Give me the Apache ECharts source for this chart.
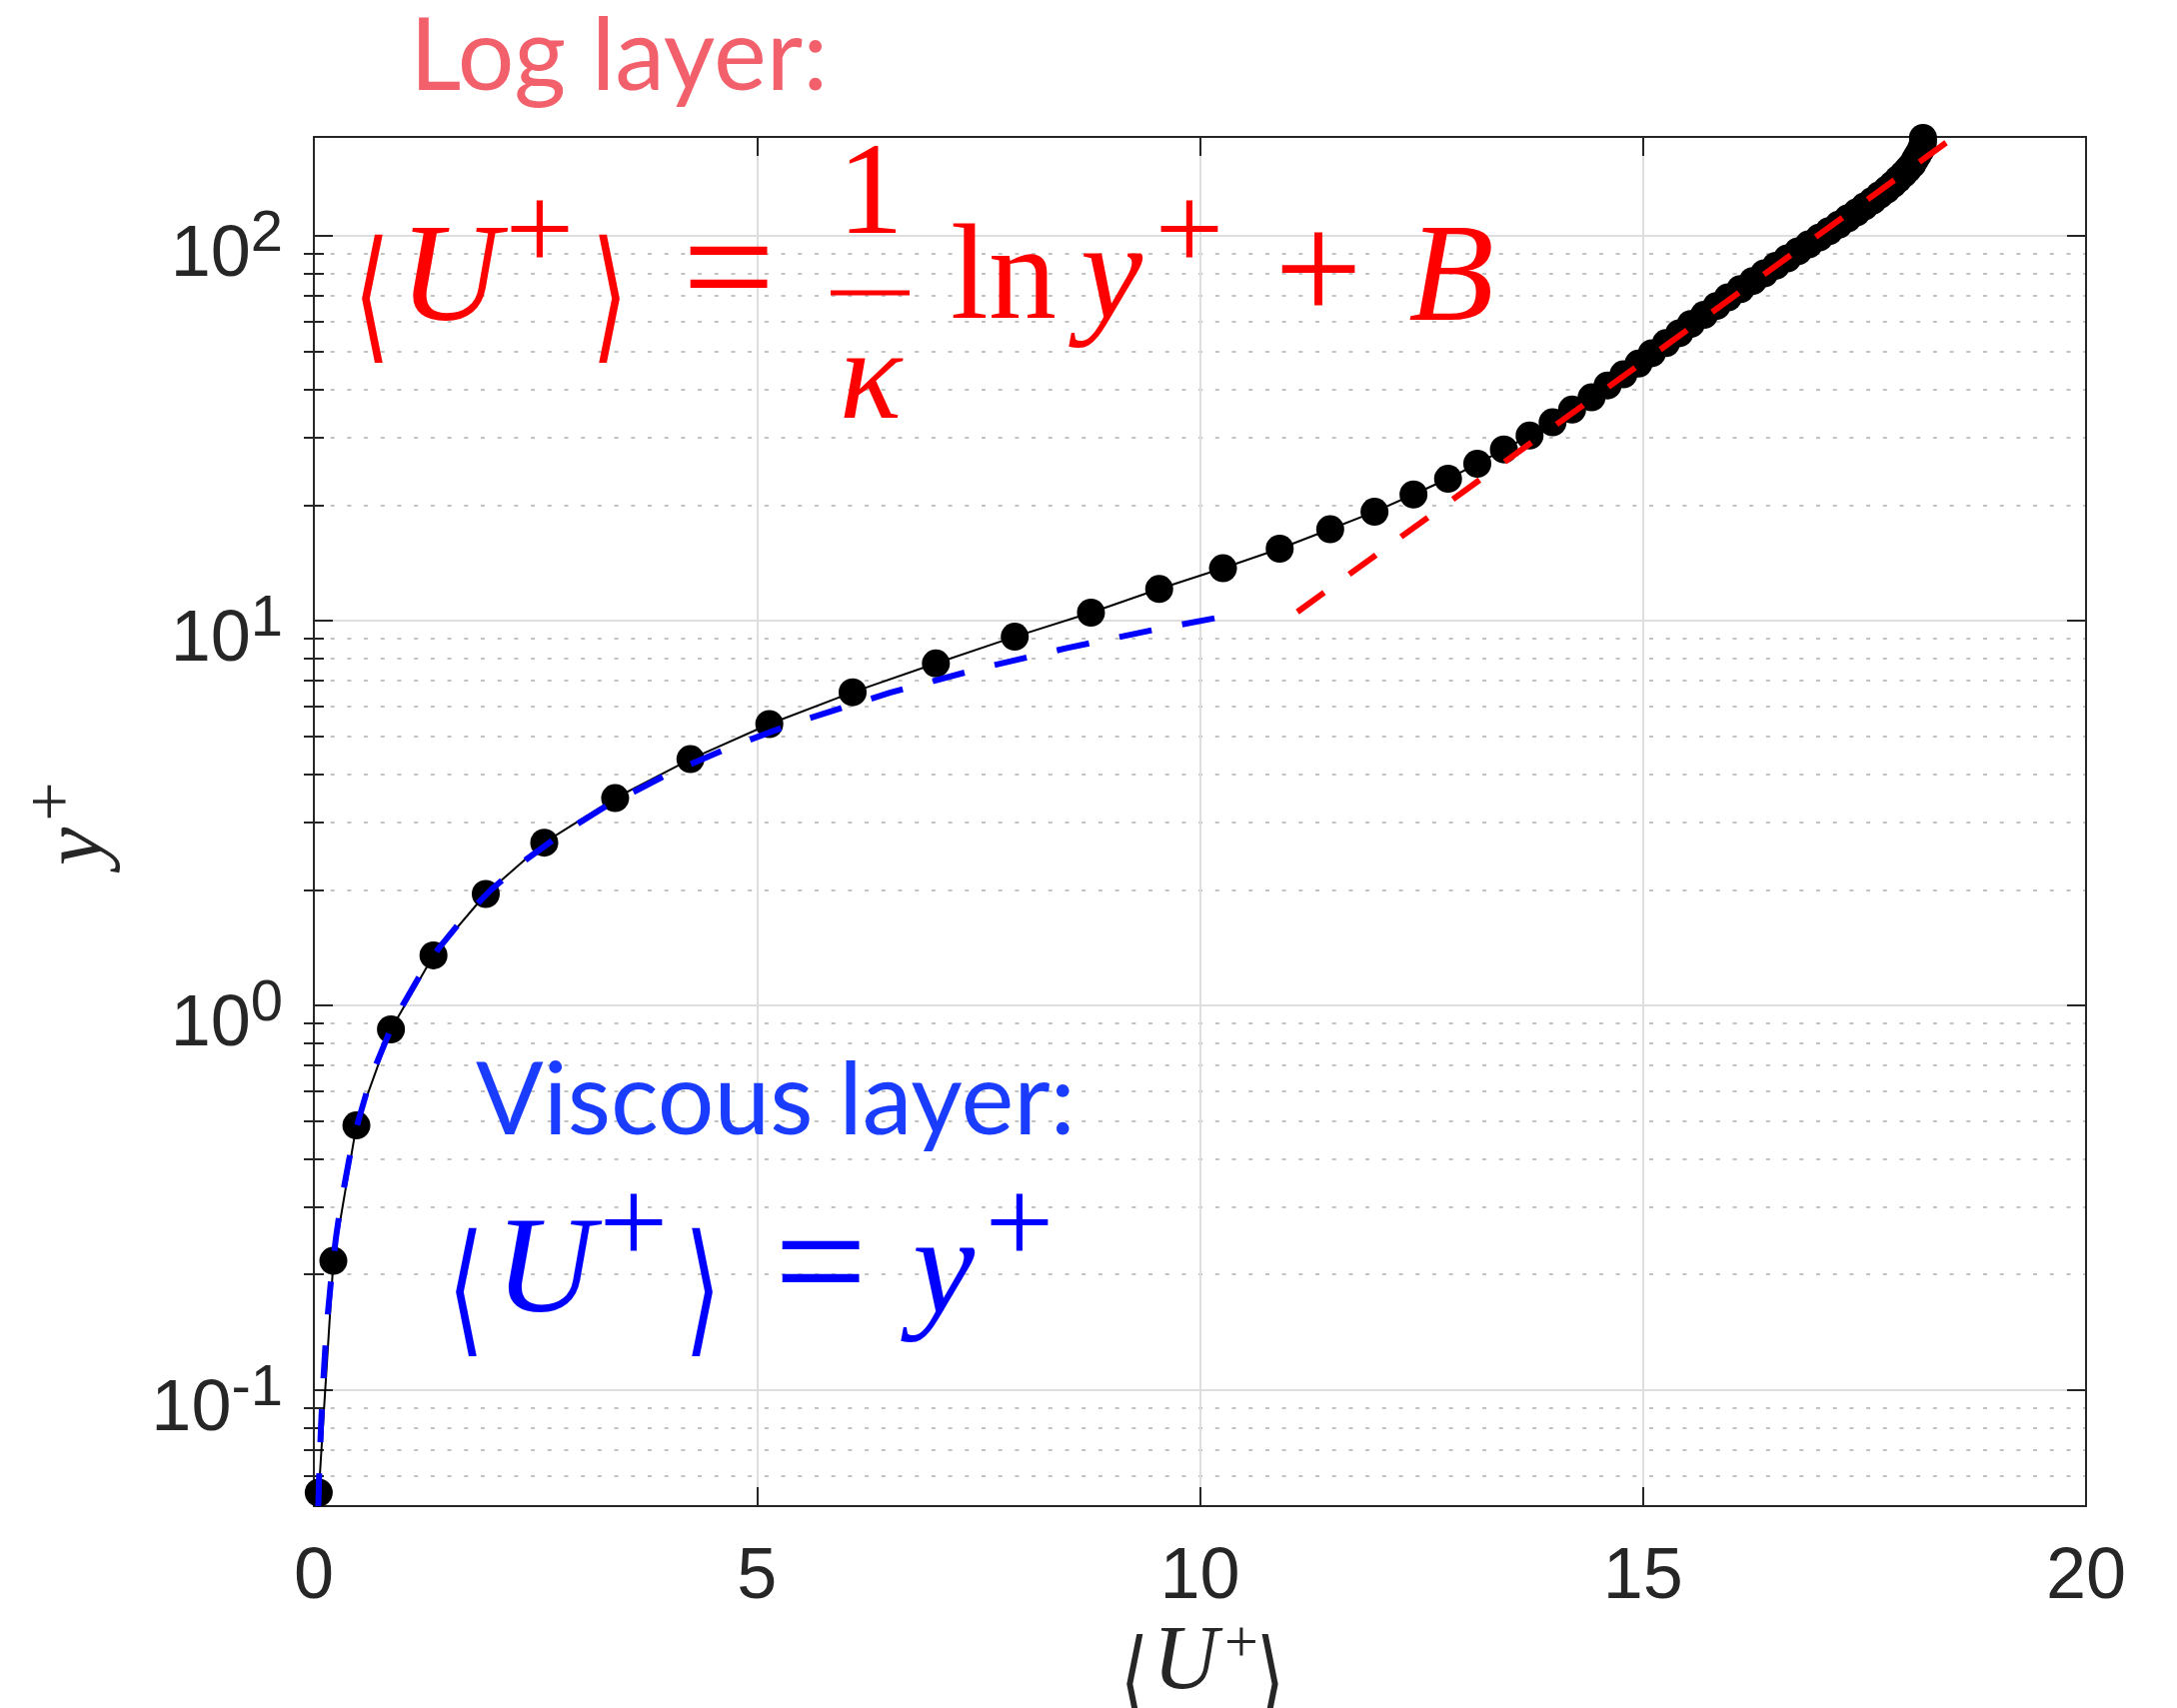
<!DOCTYPE html>
<html><head><meta charset="utf-8">
<script src="https://cdn.jsdelivr.net/npm/echarts@6/dist/echarts.min.js"></script>
<style>html,body{margin:0;padding:0;background:#fff}#c{width:2178px;height:1709px}</style>
</head><body><div id="c"></div>
<script>
// Mean velocity profile (DNS points)
const uPlus = [0.055, 0.22, 0.48, 0.87, 1.35, 1.94, 2.60, 3.40, 4.25, 5.14, 6.08, 7.02, 7.91, 8.77, 9.54, 10.26, 10.90, 11.47, 11.97, 12.41, 12.80, 13.13, 13.43, 13.72, 13.98, 14.20, 14.42, 14.60, 14.78, 14.95, 15.10, 15.26, 15.41, 15.54, 15.69, 15.83, 15.96, 16.10, 16.24, 16.37, 16.50, 16.63, 16.75, 16.87, 16.99, 17.10, 17.21, 17.31, 17.41, 17.50, 17.59, 17.67, 17.75, 17.82, 17.88, 17.94, 17.99, 18.04, 18.07, 18.10, 18.13, 18.15, 18.16, 18.16];
const yPlus = [0.0542, 0.217, 0.488, 0.867, 1.35, 1.95, 2.65, 3.46, 4.37, 5.39, 6.52, 7.75, 9.09, 10.5, 12.1, 13.7, 15.4, 17.3, 19.2, 21.3, 23.4, 25.6, 27.9, 30.3, 32.8, 35.4, 38.1, 40.9, 43.7, 46.6, 49.6, 52.7, 55.9, 59.1, 62.4, 65.8, 69.3, 72.8, 76.4, 80.0, 83.7, 87.5, 91.3, 95.1, 99.1, 103.0, 107.1, 111.1, 115.2, 119.4, 123.5, 127.8, 132.0, 136.3, 140.6, 144.9, 149.2, 153.6, 158.0, 162.4, 166.8, 171.2, 175.6, 180];
// Viscous sublayer line <U+> = y+
const viscousU = [0.05, 0.06, 0.08, 0.1, 0.13, 0.16, 0.2, 0.25, 0.3, 0.4, 0.5, 0.6, 0.7, 0.85, 1, 1.2, 1.4, 1.7, 2, 2.4, 2.8, 3.3, 4, 4.7, 5.5, 6.5, 7.5, 8.5, 9.5, 10.5];
const viscousY = [0.05, 0.06, 0.08, 0.1, 0.13, 0.16, 0.2, 0.25, 0.3, 0.4, 0.5, 0.6, 0.7, 0.85, 1, 1.2, 1.4, 1.7, 2, 2.4, 2.8, 3.3, 4, 4.7, 5.5, 6.5, 7.5, 8.5, 9.5, 10.5];
// Log-law line
const logLawU = [11.10, 13.49, 15.5, 17.0, 18.49];
const logLawY = [10.55, 26.4, 57.0, 101.4, 179.6];
// Axis ticks
const xTicks = [0, 5, 10, 15, 20];
const yMajorTicks = [0.1, 1, 10, 100];
const yMinorTicks = [0.06, 0.07, 0.08, 0.09, 0.2, 0.3, 0.4, 0.5, 0.6, 0.7, 0.8, 0.9, 2, 3, 4, 5, 6, 7, 8, 9, 20, 30, 40, 50, 60, 70, 80, 90];

const AX = '#262626';
const pair = (a, b) => a.map((v, i) => [v, b[i]]);
const chart = echarts.init(document.getElementById('c'), null, {renderer: 'canvas', width: 2178, height: 1709});

const axLine = {show: true, onZero: false, lineStyle: {color: AX, width: 2}};
const yBase = {type: 'log', logBase: 10, min: 0.05, max: 181};
const SERIF = '"Liberation Serif", "Times New Roman", serif';
const RED = '#ff0000', BLUE = '#0000ff';

function t(text, x, y, size, fill, opts) {
  opts = opts || {};
  return {
    type: 'text', x: x, y: y, rotation: opts.rot || 0, scaleX: opts.sx || 1, scaleY: opts.sy || 1, z: 50,
    style: {
      text: text, fontSize: size, fontFamily: opts.family || SERIF,
      fontStyle: opts.italic ? 'italic' : 'normal', fill: fill,
      align: opts.align || 'center', verticalAlign: 'middle'
    }
  };
}
const BR = {family: '"DejaVu Sans"', sy: 2, sx: 1.3};

const graphics = [
  t('Log layer:', 410, 58, 100, '#f2606b', {family: 'Lato', align: 'left'}),
  // red equation
  t('\u27E8', 372, 307, 72, RED, BR),
  t('U', 450, 283, 140, RED, {italic: true}),
  t('+', 540, 238, 122, RED),
  t('\u27E9', 610, 307, 72, RED, BR),
  t('=', 729, 279, 165, RED),
  t('1', 871, 198, 132, RED),
  {type: 'rect', z: 50, shape: {x: 831, y: 290.5, width: 79, height: 5}, style: {fill: RED}},
  t('\u03BA', 871, 384, 130, RED, {italic: true}),
  t('ln', 1004, 282, 136, RED),
  t('y', 1112, 281, 140, RED, {italic: true}),
  t('+', 1190, 238, 122, RED),
  t('+', 1319, 280, 156, RED),
  t('B', 1452, 283, 140, RED, {italic: true}),
  // blue text
  t('Viscous layer:', 476, 1103, 100, '#1a3cff', {family: 'Lato', align: 'left'}),
  t('\u27E8', 466, 1301, 72, BLUE, BR),
  t('U', 545, 1276, 138, BLUE, {italic: true}),
  t('+', 634, 1232, 122, BLUE),
  t('\u27E9', 703, 1301, 72, BLUE, BR),
  t('=', 821, 1274, 165, BLUE),
  t('y', 944, 1276, 140, BLUE, {italic: true}),
  t('+', 1020, 1232, 122, BLUE),
  // x axis title
  t('\u27E8', 1135, 1691, 56, AX, BR),
  t('U', 1186, 1665, 90, AX, {italic: true}),
  t('+', 1242, 1646, 60, AX),
  t('\u27E9', 1271, 1691, 56, AX, BR),
  // y axis title (rotated)
  t('y', 78, 847, 86, AX, {italic: true, rot: Math.PI / 2}),
  t('+', 55, 802, 70, AX, {rot: Math.PI / 2})
];

const option = {
  animation: false,
  backgroundColor: '#ffffff',
  grid: {left: 314, top: 137, width: 1773, height: 1370, containLabel: false},
  xAxis: [
    {type: 'value', position: 'bottom', min: xTicks[0], max: xTicks[xTicks.length - 1], interval: 5,
      axisLine: axLine,
      axisTick: {show: true, inside: true, length: 19, lineStyle: {color: AX, width: 2}},
      axisLabel: {margin: 36, fontSize: 72, color: AX, fontFamily: 'Liberation Sans'},
      splitLine: {show: true, lineStyle: {color: '#dedede', width: 2}}},
    {type: 'value', position: 'top', min: xTicks[0], max: xTicks[xTicks.length - 1], interval: 5,
      axisLine: axLine,
      axisTick: {show: true, inside: true, length: 19, lineStyle: {color: AX, width: 2}},
      axisLabel: {show: false}, splitLine: {show: false}}
  ],
  yAxis: [
    Object.assign({}, yBase, {position: 'left', axisLine: axLine,
      axisTick: {show: true, inside: true, length: 19, customValues: yMajorTicks, lineStyle: {color: AX, width: 2}},
      axisLabel: {show: true, customValues: yMajorTicks, margin: 31, padding: [12, 0, 0, 0],
        formatter: function (v) { return '{m|10}{s|' + Math.round(Math.log10(v)) + '}'; },
        rich: {
          m: {fontSize: 72, fontFamily: 'Liberation Sans', color: AX, lineHeight: 72, padding: [28, 0, 0, 0]},
          s: {fontSize: 58, fontFamily: 'Liberation Sans', color: AX, lineHeight: 58, verticalAlign: 'top'}
        }},
      splitLine: {show: true, lineStyle: {color: '#dedede', width: 2}}}),
    Object.assign({}, yBase, {position: 'left', axisLine: {show: false},
      axisTick: {show: true, inside: true, length: 10, customValues: yMinorTicks, lineStyle: {color: AX, width: 2}},
      axisLabel: {show: false},
      splitLine: {show: true, lineStyle: {color: '#c2c2c2', width: 2, type: [4, 12.7]}}}),
    Object.assign({}, yBase, {position: 'right', axisLine: axLine,
      axisTick: {show: true, inside: true, length: 19, customValues: yMajorTicks, lineStyle: {color: AX, width: 2}},
      axisLabel: {show: false}, splitLine: {show: false}}),
    Object.assign({}, yBase, {position: 'right', axisLine: {show: false},
      axisTick: {show: true, inside: true, length: 10, customValues: yMinorTicks, lineStyle: {color: AX, width: 2}},
      axisLabel: {show: false}, splitLine: {show: false}})
  ],
  series: [
    {type: 'line', name: 'DNS', xAxisIndex: 0, yAxisIndex: 0, data: pair(uPlus, yPlus),
      symbol: 'circle', symbolSize: 28, showSymbol: true, showAllSymbol: true,
      itemStyle: {color: '#000'}, lineStyle: {color: '#000', width: 2}, z: 3},
    {type: 'line', name: 'viscous', xAxisIndex: 0, yAxisIndex: 0, data: pair(viscousU, viscousY),
      showSymbol: false, symbol: 'none', lineStyle: {color: BLUE, width: 6, type: [33, 31], cap: 'butt'}, z: 4},
    {type: 'line', name: 'log', xAxisIndex: 0, yAxisIndex: 0, data: pair(logLawU, logLawY),
      showSymbol: false, symbol: 'none', lineStyle: {color: RED, width: 6, type: [33, 31], cap: 'butt'}, z: 5}
  ],
  graphic: graphics
};
chart.setOption(option);
</script>
</body></html>
